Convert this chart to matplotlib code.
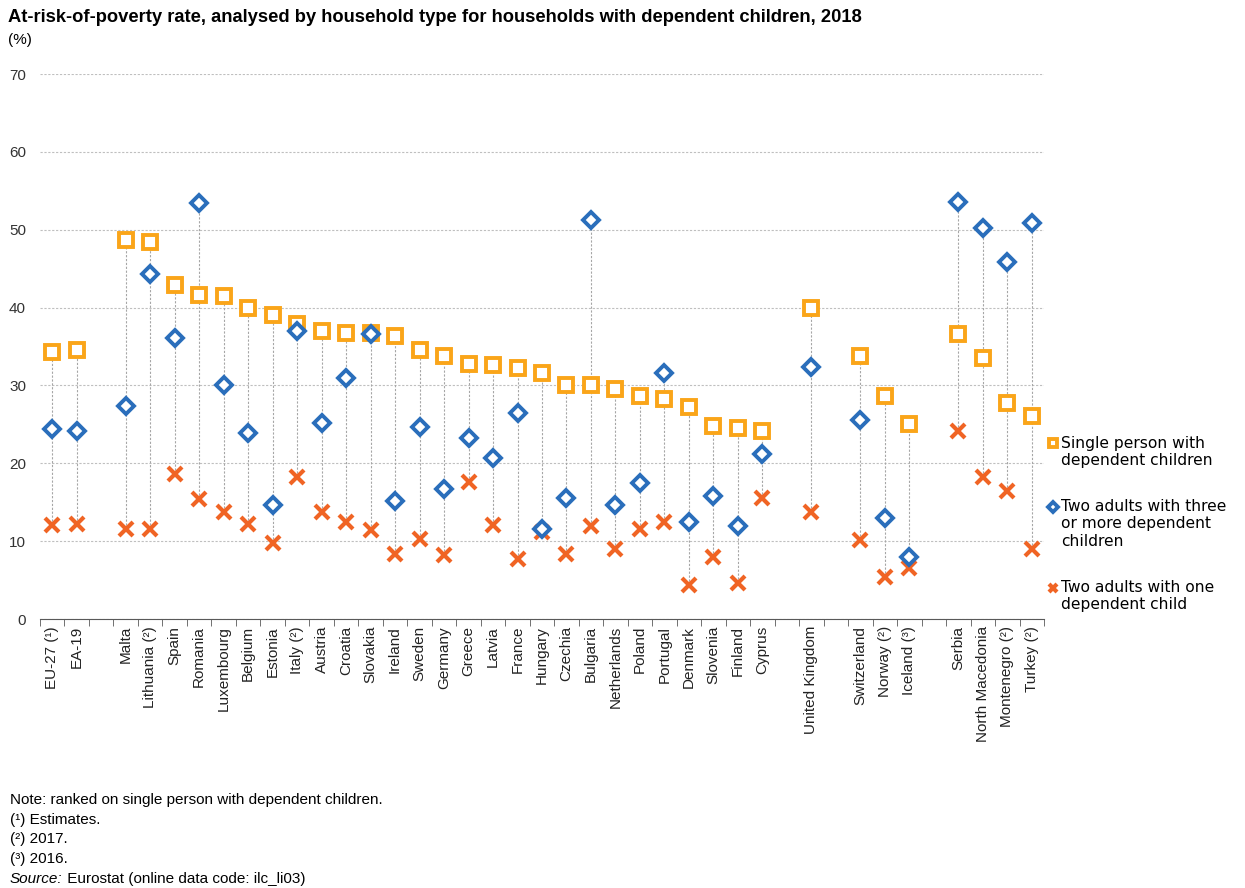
import numpy as np
import matplotlib.pyplot as plt
from matplotlib.legend_handler import HandlerLine2D

plt.rcParams['font.family'] = ['Liberation Sans', 'DejaVu Sans']

# Данные
groups = [
    ['EU-27 (¹)', 'EA-19'],
    ['Malta', 'Lithuania (²)', 'Spain', 'Romania', 'Luxembourg', 'Belgium',
     'Estonia', 'Italy (²)', 'Austria', 'Croatia', 'Slovakia', 'Ireland',
     'Sweden', 'Germany', 'Greece', 'Latvia', 'France', 'Hungary', 'Czechia',
     'Bulgaria', 'Netherlands', 'Poland', 'Portugal', 'Denmark', 'Slovenia',
     'Finland', 'Cyprus'],
    ['United Kingdom'],
    ['Switzerland', 'Norway (²)', 'Iceland (³)'],
    ['Serbia', 'North Macedonia', 'Montenegro (²)', 'Turkey (²)'],
]

single = [34.3, 34.6,
          48.7, 48.4, 42.9, 41.6, 41.5, 39.9, 39.1, 37.9, 37.0, 36.7, 36.7,
          36.4, 34.6, 33.8, 32.8, 32.6, 32.2, 31.6, 30.1, 30.1, 29.6, 28.6,
          28.3, 27.2, 24.8, 24.5, 24.2,
          39.9,
          33.8, 28.6, 25.0,
          36.6, 33.5, 27.7, 26.1]
three_plus = [24.4, 24.1,
              27.3, 44.3, 36.1, 53.4, 30.0, 23.9, 14.6, 37.0, 25.2, 31.0, 36.6,
              15.1, 24.7, 16.7, 23.3, 20.7, 26.5, 11.6, 15.6, 51.2, 14.6, 17.5,
              31.6, 12.4, 15.8, 11.9, 21.2,
              32.4,
              25.6, 13.0, 7.9,
              53.5, 50.2, 45.9, 50.8]
one_child = [12.1, 12.2,
             11.6, 11.6, 18.6, 15.4, 13.7, 12.2, 9.8, 18.3, 13.7, 12.4, 11.4,
             8.4, 10.3, 8.2, 17.6, 12.1, 7.7, 11.2, 8.4, 11.9, 9.0, 11.5,
             12.4, 4.4, 7.9, 4.6, 15.6,
             13.7,
             10.2, 5.4, 6.6,
             24.1, 18.3, 16.4, 9.0]

# позиции с пустыми слотами между группами
labels = []
pos = []
p = 0
for g in groups:
    for name in g:
        labels.append(name)
        pos.append(p)
        p += 1
    p += 1
pos = np.array(pos)
n_slots = p - 1

single = np.array(single)
three_plus = np.array(three_plus)
one_child = np.array(one_child)

c_sq = '#FAA519'
c_di = '#2A6EBB'
c_x = '#F06424'


# маркер легенды на уровне первой строки текста
class TopHandler(HandlerLine2D):
    def __init__(self, nlines, **kw):
        super().__init__(**kw)
        self.nlines = nlines

    def create_artists(self, legend, orig_handle, xdescent, ydescent,
                       width, height, fontsize, trans):
        shift = (self.nlines - 1) * 1.15 * fontsize
        return super().create_artists(legend, orig_handle, xdescent,
                                      ydescent - shift, width, height,
                                      fontsize, trans)


fig = plt.figure(figsize=(12.45, 8.88), dpi=100)
ax = fig.add_axes([40 / 1245, 1 - 619 / 888, 1004 / 1245, 545 / 888])

allv = np.vstack([single, three_plus, one_child])
ax.vlines(pos, allv.min(axis=0), allv.max(axis=0), colors='#A6A6A6',
          linestyles=(0, (2, 1.5)), linewidth=0.8, zorder=1)

h1, = ax.plot(pos, single, 's', ms=10, mfc='white', mec=c_sq, mew=2.8, zorder=3,
              label='Single person with\ndependent children')
h2, = ax.plot(pos, three_plus, 'D', ms=8.5, mfc='white', mec=c_di, mew=2.8, zorder=4,
              label='Two adults with three\nor more dependent\nchildren')
h3, = ax.plot(pos, one_child, 'x', ms=10, mec=c_x, mew=3, zorder=2,
              label='Two adults with one\ndependent child')

ax.set_xlim(-0.5, n_slots - 0.5)
ax.set_ylim(0, 70)
ax.set_yticks(np.arange(0, 71, 10))
ax.yaxis.grid(True, color='#BFBFBF', linestyle=(0, (2, 1.5)), linewidth=0.8)
ax.set_axisbelow(True)

ax.set_xticks(pos)
ax.set_xticklabels(labels, rotation=90, fontsize=11, color='#222222')
ax.set_xticks(np.arange(-0.5, n_slots, 1), minor=True)
ax.tick_params(axis='x', which='major', length=0, pad=5)
ax.tick_params(axis='x', which='minor', length=5, color='#595959')
ax.tick_params(axis='y', length=0, pad=10, labelsize=11, labelcolor='#333333')

for s in ['top', 'right', 'left']:
    ax.spines[s].set_visible(False)
ax.spines['bottom'].set_color('#595959')

ax.legend(handles=[h1, h2, h3], loc='center left',
          bbox_to_anchor=(1041 / 1245, 0.41),
          bbox_transform=fig.transFigure, frameon=False,
          prop={'family': 'DejaVu Sans', 'size': 11.2},
          markerscale=0.6, handlelength=0.6, handletextpad=0.2,
          labelspacing=2.0, borderpad=0,
          handler_map={h1: TopHandler(2), h2: TopHandler(3), h3: TopHandler(2)})

fig.text(8 / 1245, 1 - 18 / 888,
         'At-risk-of-poverty rate, analysed by household type for households with dependent children, 2018',
         fontsize=13.2, fontweight='bold', va='center')
fig.text(8 / 1245, 1 - 40 / 888, '(%)', fontsize=11, va='center')

notes = ['Note: ranked on single person with dependent children.',
         '(¹) Estimates.',
         '(²) 2017.',
         '(³) 2016.']
for i, s in enumerate(notes):
    fig.text(10 / 1245, 1 - (800 + i * 19.5) / 888, s, fontsize=11, va='center')
src = fig.text(10 / 1245, 1 - 879 / 888, 'Source:', fontsize=11, va='center',
               style='italic')
ax.annotate(' Eurostat (online data code: ilc_li03)', xy=(1, 0.5), xycoords=src,
            va='center', fontsize=11)

fig.savefig('out.png', dpi=100)
